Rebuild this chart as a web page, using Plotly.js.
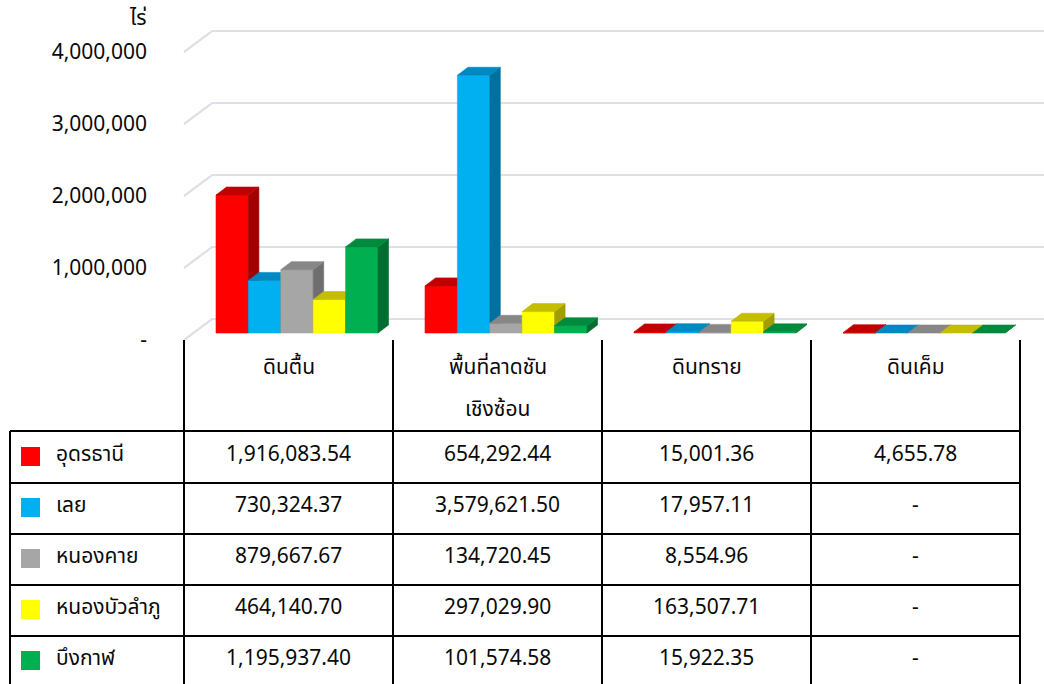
<!DOCTYPE html>
<html><head><meta charset="utf-8">
<script src="https://cdn.plot.ly/plotly-3.0.1.min.js"></script>
<style>html,body{margin:0;padding:0;background:#fff;overflow:hidden}</style>
</head><body><div id="chart" style="width:1044px;height:684px"></div>
<script>
// ---------- data ----------
const categories = ['ดินตื้น', 'พื้นที่ลาดชัน\nเชิงซ้อน', 'ดินทราย', 'ดินเค็ม'];
const seriesNames = ['อุดรธานี', 'เลย', 'หนองคาย', 'หนองบัวลำภู', 'บึงกาฬ'];
const udonthani = [1916083.54, 654292.44, 15001.36, 4655.78];
const loei = [730324.37, 3579621.50, 17957.11, 0];
const nongkhai = [879667.67, 134720.45, 8554.96, 0];
const nongbualamphu = [464140.70, 297029.90, 163507.71, 0];
const buengkan = [1195937.40, 101574.58, 15922.35, 0];
const tickVals = [0, 1000000, 2000000, 3000000, 4000000];
const tickText = ['-', '1,000,000', '2,000,000', '3,000,000', '4,000,000'];
const unitLabel = 'ไร่';

const seriesValues = [udonthani, loei, nongkhai, nongbualamphu, buengkan];

// ---------- styles ----------
const frontColors = ['#FF0000', '#00B0F0', '#A6A6A6', '#FFFF00', '#00B050'];
const topColors   = ['#C00000', '#0088C0', '#878787', '#C4BD00', '#008A3E'];
const sideColors  = ['#A00000', '#00709E', '#6E6E6E', '#A39E00', '#006E30'];
const FONT = "Tahoma, 'Noto Sans Thai', Loma, Garuda, 'DejaVu Sans', sans-serif";
const TXT = '#0a0a0a';
const FS = 21;

// ---------- geometry (pixels -> axis units) ----------
const W = 1044, H = 684, ML = 150, MR = 0, MT = 10, MB = 339;
const PW = W - ML - MR, PH = H - MT - MB;
const catPx = 209, cat0Px = 288.5;      // px per category, px of category 0 centre
const yPxPerUnit = 72 / 1e6, y0Px = 340; // front plane
const xRange = [(ML - cat0Px) / catPx, (W - MR - cat0Px) / catPx];
const yRange = [(y0Px - (H - MB)) / yPxPerUnit, (y0Px - MT) / yPxPerUnit];
const ux = px => px / catPx, uy = px => px / yPxPerUnit;
const planeDx = ux(8.5), planeDy = uy(7);   // bars sit a bit behind the front
const barW = ux(32.4);
const depDx = ux(10.5), depDy = uy(8);      // bar depth
const backDx = ux(28), backDy = uy(21);     // back wall
const px2paperX = px => (px - ML) / PW;
const px2paperY = py => 1 - (py - MT) / PH;

const traces = [];
// gridlines (front-left slant + back wall)
{
  const gx = [], gy = [];
  tickVals.forEach(t => {
    gx.push(-0.5, -0.5 + backDx, xRange[1] + 1, null);
    gy.push(t, t + backDy, t + backDy, null);
  });
  traces.push({type: 'scatter', mode: 'lines', x: gx, y: gy, line: {color: '#DDE0E6', width: 2.2},
    hoverinfo: 'skip', showlegend: false});
}
function poly(xs, ys, color) {
  traces.push({type: 'scatter', mode: 'lines', x: xs.concat([xs[0]]), y: ys.concat([ys[0]]),
    fill: 'toself', fillcolor: color, line: {color: color, width: 0.6},
    hoverinfo: 'skip', showlegend: false});
}
categories.forEach((c, ci) => {
  seriesValues.forEach((vals, si) => {
    const v = vals[ci];
    const x0 = ci - 2.5 * barW + si * barW + planeDx, x1 = x0 + barW;
    const b = planeDy, t = planeDy + v;
    if (v > 0) poly([x0, x1, x1, x0], [b, b, t, t], frontColors[si]);
    poly([x1, x1 + depDx, x1 + depDx, x1], [b, b + depDy, t + depDy, t], sideColors[si]);
    poly([x0, x1, x1 + depDx, x0 + depDx], [t, t, t + depDy, t + depDy], topColors[si]);
  });
});

// ---------- table ----------
const shapes = [], annotations = [];
const LINE = {color: '#000000', width: 2};
const colEdgesPx = [184, 393, 602, 811, 1020];
const rowEdgesPx = [431, 483, 534, 585, 636, 690];
const textYPx = [454, 505, 556, 607, 658];
colEdgesPx.forEach(px => shapes.push({type: 'line', xref: 'paper', yref: 'paper',
  x0: px2paperX(px), x1: px2paperX(px), y0: px2paperY(340), y1: px2paperY(690), line: LINE}));
shapes.push({type: 'line', xref: 'paper', yref: 'paper', x0: px2paperX(10), x1: px2paperX(10),
  y0: px2paperY(431), y1: px2paperY(690), line: LINE});
rowEdgesPx.forEach(py => shapes.push({type: 'line', xref: 'paper', yref: 'paper',
  x0: px2paperX(10), x1: px2paperX(1020), y0: px2paperY(py), y1: px2paperY(py), line: LINE}));

// header
categories.forEach((c, ci) => {
  c.split('\n').forEach((line, li) => annotations.push({xref: 'x', yref: 'paper', x: ci,
    y: px2paperY(367 + li * 42), text: line, showarrow: false, xanchor: 'center', yanchor: 'middle',
    font: {family: FONT, size: FS, color: TXT}}));
});
const fmt = v => v === 0 ? '-' : v.toLocaleString('en-US', {minimumFractionDigits: 2, maximumFractionDigits: 2});
seriesNames.forEach((name, si) => {
  const cy = textYPx[si];
  shapes.push({type: 'rect', xref: 'paper', yref: 'paper', x0: px2paperX(21), x1: px2paperX(40),
    y0: px2paperY(cy - 7), y1: px2paperY(cy + 12), fillcolor: frontColors[si], line: {width: 0}});
  annotations.push({xref: 'paper', yref: 'paper', x: px2paperX(54), y: px2paperY(cy), text: name,
    showarrow: false, xanchor: 'left', yanchor: 'middle', font: {family: FONT, size: FS, color: TXT}});
  seriesValues[si].forEach((v, ci) => annotations.push({xref: 'x', yref: 'paper', x: ci,
    y: px2paperY(cy), text: fmt(v), showarrow: false, xanchor: 'center', yanchor: 'middle',
    font: {family: FONT, size: FS, color: TXT}}));
});
annotations.push({xref: 'paper', yref: 'paper', x: px2paperX(148), y: px2paperY(19), text: unitLabel,
  showarrow: false, xanchor: 'right', yanchor: 'middle', font: {family: FONT, size: FS, color: TXT}});

const layout = {
  width: W, height: H, margin: {l: ML, r: MR, t: MT, b: MB, pad: 0},
  paper_bgcolor: '#ffffff', plot_bgcolor: 'rgba(0,0,0,0)', showlegend: false,
  font: {family: FONT, color: TXT},
  xaxis: {range: xRange, showgrid: false, zeroline: false, showline: false, showticklabels: false, ticks: '', fixedrange: true},
  yaxis: {range: yRange, showgrid: false, zeroline: false, showline: false, ticks: '',
    tickmode: 'array', tickvals: tickVals, ticktext: tickText, ticklabelstandoff: 2,
    tickfont: {family: FONT, size: FS, color: TXT}, fixedrange: true},
  shapes: shapes, annotations: annotations
};
Plotly.newPlot('chart', traces, layout, {displayModeBar: false, staticPlot: true});
</script>
</body></html>
